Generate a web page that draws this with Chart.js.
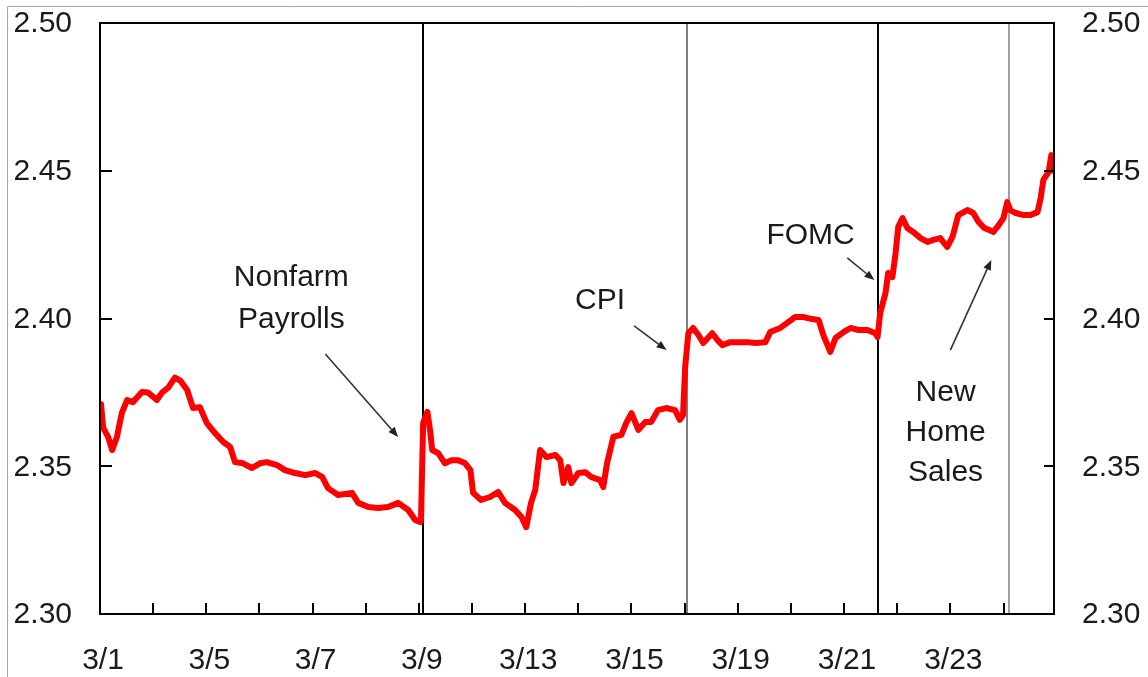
<!DOCTYPE html>
<html><head><meta charset="utf-8">
<script src="https://cdn.jsdelivr.net/npm/chart.js@4/dist/chart.umd.min.js"></script>
<style>html,body{margin:0;padding:0;background:#fff;}canvas{display:block;}</style>
</head><body>
<canvas id="c" width="1148" height="677"></canvas>
<script>
// trading-day index (0 = 3/1 open) for each observation
const times = [
  0.02,0.06,0.15,0.23,0.32,0.41,0.51,0.62,0.79,0.90,1.07,1.17,1.28,1.41,1.51,1.64,1.75,1.88,2.01,2.16,
  2.32,2.45,2.54,2.69,2.86,3.01,3.14,3.33,3.48,3.67,3.86,4.05,4.18,4.29,4.48,4.74,4.86,5.05,5.23,5.42,
  5.61,5.80,5.93,6.02,6.04,6.08,6.16,6.21,6.25,6.36,6.49,6.61,6.74,6.87,6.97,7.02,7.17,7.34,7.49,7.62,
  7.81,7.93,8.02,8.11,8.19,8.28,8.40,8.57,8.66,8.72,8.81,8.87,9.00,9.13,9.24,9.41,9.47,9.54,9.66,9.81,
  9.90,10.00,10.13,10.26,10.37,10.50,10.65,10.82,10.91,10.97,11.01,11.07,11.16,11.26,11.35,11.52,11.62,11.71,11.86,12.01,
  12.18,12.33,12.52,12.61,12.80,12.95,13.08,13.23,13.40,13.52,13.61,13.74,13.84,13.99,14.12,14.27,14.44,14.59,14.63,14.68,
  14.78,14.83,14.91,14.97,15.02,15.10,15.19,15.30,15.44,15.57,15.68,15.81,15.94,16.04,16.15,16.32,16.43,16.53,16.64,16.72,
  16.81,16.91,17.00,17.07,17.13,17.23,17.38,17.51,17.64,17.70,17.75,17.85,17.90,17.94
];
const yields = [
  2.371,2.363,2.360,2.3555,2.360,2.368,2.3724,2.3717,2.3751,2.375,2.3724,2.375,2.3765,2.380,2.379,2.3758,2.3697,2.370,2.3646,2.3613,
  2.3582,2.3565,2.3514,2.351,2.3494,2.351,2.3514,2.3504,2.3487,2.3477,2.347,2.3477,2.3464,2.3426,2.3403,2.341,2.3376,2.3362,2.3359,2.3362,
  2.3376,2.3352,2.3318,2.3311,2.3318,2.3646,2.3684,2.3623,2.3555,2.3545,2.351,2.352,2.352,2.351,2.3487,2.341,2.3386,2.3396,2.3413,2.3376,
  2.3352,2.3328,2.3294,2.3376,2.342,2.3555,2.3531,2.3538,2.352,2.3443,2.3497,2.3443,2.3477,2.348,2.3464,2.3453,2.343,2.351,2.360,2.3606,
  2.3646,2.368,2.3623,2.365,2.365,2.369,2.3697,2.369,2.3657,2.3673,2.3836,2.395,2.3968,2.3944,2.3917,2.395,2.3927,2.391,2.392,2.392,
  2.392,2.3917,2.392,2.3954,2.3968,2.3988,2.4005,2.4005,2.3998,2.3995,2.3944,2.3887,2.3934,2.3954,2.3968,2.3961,2.3961,2.395,2.3937,2.4019,
  2.4086,2.4154,2.414,2.4222,2.431,2.434,2.4306,2.4293,2.4272,2.4259,2.4266,2.4272,2.4242,2.4276,2.435,2.4367,2.4357,2.4327,2.4306,2.430,
  2.4293,2.4316,2.434,2.4394,2.4367,2.4357,2.435,2.435,2.436,2.4408,2.4469,2.4496,2.4553,2.450
];
const dayLabels = ['3/1','3/2','3/5','3/6','3/7','3/8','3/9','3/12','3/13','3/14','3/15','3/16','3/19','3/20','3/21','3/22','3/23','3/26'];
const shownDayLabels = ['3/1','3/5','3/7','3/9','3/13','3/15','3/19','3/21','3/23'];
const yTicks = [2.30,2.35,2.40,2.45,2.50];
const yTickLabels = ['2.30','2.35','2.40','2.45','2.50'];
const eventNames = ['Nonfarm Payrolls','CPI','FOMC','New Home Sales'];
const eventTimes = [6.07,11.04,14.63,17.11];

// styling / placement (not data)
const eventStyles = [
  {color:'#000000', width:2},
  {color:'#7f7f7f', width:2},
  {color:'#000000', width:2},
  {color:'#7f7f7f', width:1.5}
];
const notes = [
  {lines:['Nonfarm','Payrolls'], x:3.60, y:2.4137, lh:42, from:[4.24,2.388], to:[5.61,2.3599]},
  {lines:['CPI'], x:9.41, y:2.4059, lh:42, from:[10.05,2.3975], to:[10.66,2.3893]},
  {lines:['FOMC'], x:13.37, y:2.4279, lh:42, from:[14.06,2.4205], to:[14.57,2.413]},
  {lines:['New','Home','Sales'], x:15.91, y:2.3748, lh:40, from:[16.00,2.3893], to:[16.77,2.4198]}
];
const FONT = '30px "Liberation Sans", Arial, sans-serif';
const TXT = '#1a1a1a';

const points = times.map((t,i)=>({x:t, y:yields[i]}));

const eventPlugin = {
  id:'events',
  beforeDatasetsDraw(chart){
    const {ctx, chartArea:a, scales:{x}} = chart;
    ctx.save();
    eventTimes.forEach((t,i)=>{
      const px = Math.round(x.getPixelForValue(t));
      ctx.strokeStyle = eventStyles[i].color;
      ctx.lineWidth = eventStyles[i].width;
      ctx.beginPath(); ctx.moveTo(px, a.top); ctx.lineTo(px, a.bottom); ctx.stroke();
    });
    ctx.restore();
  }
};

const framePlugin = {
  id:'frame',
  afterDatasetsDraw(chart){
    const {ctx, chartArea:a, scales:{x,y}} = chart;
    ctx.save();
    ctx.strokeStyle = '#a6a6a6'; ctx.lineWidth = 1;
    ctx.beginPath(); ctx.moveTo(7.5, 677); ctx.lineTo(7.5, 6.5); ctx.lineTo(1148, 6.5); ctx.stroke();
    ctx.strokeStyle = '#000'; ctx.lineWidth = 2;
    ctx.strokeRect(a.left, a.top, a.right - a.left, a.bottom - a.top);
    ctx.beginPath();
    yTicks.forEach(v=>{
      const py = Math.round(y.getPixelForValue(v));
      ctx.moveTo(a.left, py); ctx.lineTo(a.left + 12, py);
      ctx.moveTo(a.right, py); ctx.lineTo(a.right - 10, py);
    });
    dayLabels.forEach((d,i)=>{
      const px = Math.round(x.getPixelForValue(i));
      ctx.moveTo(px, a.bottom); ctx.lineTo(px, a.bottom - 11);
    });
    ctx.stroke();
    ctx.fillStyle = TXT; ctx.font = FONT; ctx.textBaseline = 'middle';
    yTicks.forEach((v,i)=>{
      const py = y.getPixelForValue(v) + 1;
      ctx.textAlign = 'right'; ctx.fillText(yTickLabels[i], a.left - 28, py);
      ctx.textAlign = 'left'; ctx.fillText(yTickLabels[i], a.right + 28, py);
    });
    ctx.textAlign = 'center';
    dayLabels.forEach((d,i)=>{
      if (!shownDayLabels.includes(d)) return;
      ctx.fillText(d, x.getPixelForValue(i) + 3, a.bottom + 47);
    });
    notes.forEach(n=>{
      const cx = x.getPixelForValue(n.x), cy = y.getPixelForValue(n.y);
      ctx.fillStyle = TXT; ctx.textAlign = 'center';
      n.lines.forEach((l,k)=>ctx.fillText(l, cx, cy + k*n.lh));
      const x1 = x.getPixelForValue(n.from[0]), y1 = y.getPixelForValue(n.from[1]);
      const x2 = x.getPixelForValue(n.to[0]), y2 = y.getPixelForValue(n.to[1]);
      const ang = Math.atan2(y2-y1, x2-x1);
      const hl = 10, hw = 4;
      const bx = x2 - hl*Math.cos(ang), by = y2 - hl*Math.sin(ang);
      ctx.strokeStyle = '#333'; ctx.lineWidth = 1.6;
      ctx.beginPath(); ctx.moveTo(x1,y1); ctx.lineTo(bx,by); ctx.stroke();
      ctx.fillStyle = '#222';
      ctx.beginPath();
      ctx.moveTo(x2,y2);
      ctx.lineTo(bx - hw*Math.sin(ang), by + hw*Math.cos(ang));
      ctx.lineTo(bx + hw*Math.sin(ang), by - hw*Math.cos(ang));
      ctx.closePath(); ctx.fill();
    });
    ctx.restore();
  }
};

new Chart(document.getElementById('c'), {
  type:'line',
  data:{datasets:[{label:'Yield', data:points, borderColor:'#ff0000', borderWidth:6, pointRadius:0, tension:0, fill:false, borderJoinStyle:'round', borderCapStyle:'round'}]},
  options:{
    responsive:false, animation:false, devicePixelRatio:1,
    layout:{padding:{left:100, right:94, top:23, bottom:63}},
    plugins:{legend:{display:false}, tooltip:{enabled:false}},
    scales:{
      x:{type:'linear', min:0, max:17.95, display:false},
      y:{type:'linear', min:2.30, max:2.50, display:false}
    }
  },
  plugins:[eventPlugin, framePlugin]
});
</script>
</body></html>
